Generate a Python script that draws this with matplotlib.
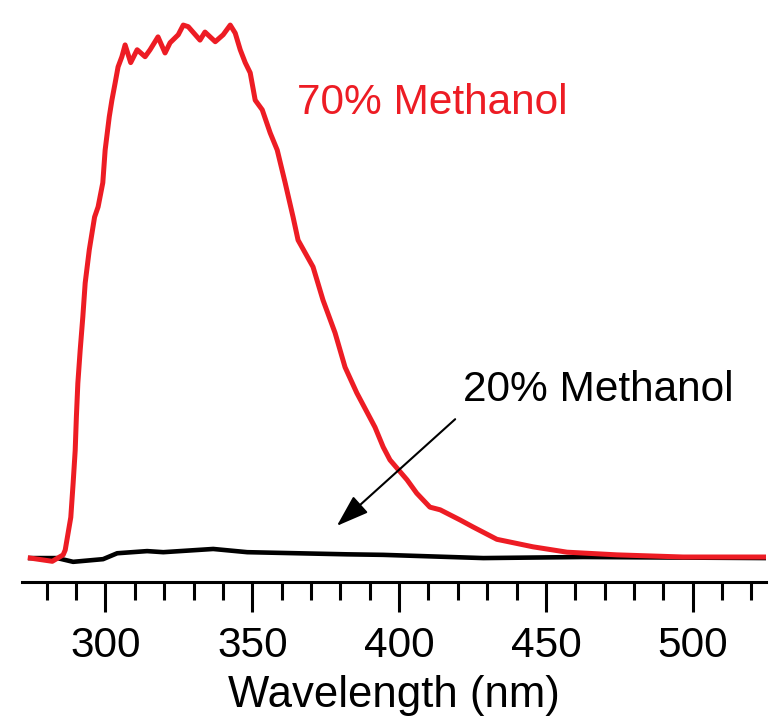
import matplotlib.pyplot as plt

plt.rcParams['font.family'] = ['Liberation Sans', 'DejaVu Sans']

# emission spectra, intensity in arbitrary units (peak ~100)
wl_70 = [274.4, 281.9, 285.6, 286.3, 288.2, 289.0, 289.7, 290.1, 290.6, 291.4,
         292.3, 293.1, 294.5, 296.3, 297.5, 299.1, 299.9, 301.3, 302.2, 303.3,
         304.3, 305.6, 306.7, 308.6, 310.8, 313.5, 315.2, 317.9, 320.3, 322.0,
         324.8, 326.5, 328.2, 332.2, 333.9, 337.4, 340.1, 342.5, 344.2, 345.9,
         347.6, 349.3, 351.0, 353.4, 356.1, 358.5, 361.2, 363.9, 365.6, 370.7,
         374.1, 378.2, 381.6, 385.6, 391.8, 394.6, 396.9, 402.7, 406.0, 410.5,
         414.0, 420.8, 425.2, 433.3, 445.6, 457.2, 474.2, 496.7, 525.3]
int_70 = [0.0, -0.6, 0.6, 1.5, 7.6, 14.0, 20.1, 26.3, 32.6, 38.8,
          45.0, 51.3, 57.5, 63.6, 65.5, 70.0, 76.1, 82.3, 85.4, 88.6,
          91.6, 93.5, 95.7, 92.4, 94.8, 93.5, 94.8, 97.2, 94.2, 96.1,
          97.6, 99.4, 99.1, 96.6, 98.1, 96.3, 97.6, 99.4, 97.9, 94.8,
          92.4, 90.5, 85.4, 83.6, 79.3, 76.1, 70.0, 63.6, 59.3, 54.3,
          48.1, 42.0, 35.6, 30.8, 24.4, 20.7, 18.3, 14.6, 12.1, 9.5,
          9.0, 7.1, 5.8, 3.5, 2.1, 1.1, 0.6, 0.2, 0.2]

wl_20 = [274.4, 283.6, 289.0, 299.2, 304.0, 314.2, 319.7, 336.7, 348.3,
         365.3, 382.3, 394.6, 428.7, 462.7, 525.3]
int_20 = [0.0, 0.0, -0.7, -0.2, 0.9, 1.3, 1.1, 1.7, 1.1,
          0.9, 0.7, 0.6, 0.0, 0.2, 0.0]

red = '#ed1c24'

fig = plt.figure(figsize=(7.77, 7.19), dpi=100)
ax = fig.add_axes([0.028, 0.191, 0.958, 0.795])

ax.plot(wl_20, int_20, color='black', lw=3.3)
ax.plot(wl_70, int_70, color=red, lw=3.6)

ax.set_xlim(271.5, 525)
ax.set_ylim(-4.4, 102.2)

for s in ['left', 'right', 'top']:
    ax.spines[s].set_visible(False)
ax.spines['bottom'].set_linewidth(2.2)
ax.set_yticks([])

ax.set_xticks([300, 350, 400, 450, 500])
ax.set_xticks(range(280, 525, 10), minor=True)
ax.tick_params(axis='x', which='major', length=21.6, width=2.2, labelsize=30.5, pad=10)
ax.tick_params(axis='x', which='minor', length=13, width=2.2)
ax.set_xlabel('Wavelength (nm)', fontsize=31.5, labelpad=7)

ax.text(365.2, 82.8, '70% Methanol', color=red, fontsize=30.5, va='baseline')
ax.text(421.9, 29.3, '20% Methanol', color='black', fontsize=30.5, va='baseline')
ax.annotate('', xy=(378.8, 6.0), xytext=(419.1, 25.9),
            arrowprops=dict(arrowstyle='-|>,head_length=1.0,head_width=0.34',
                            mutation_scale=20, lw=1.5, color='black',
                            shrinkA=0, shrinkB=0))

fig.savefig('out.png', dpi=100)
